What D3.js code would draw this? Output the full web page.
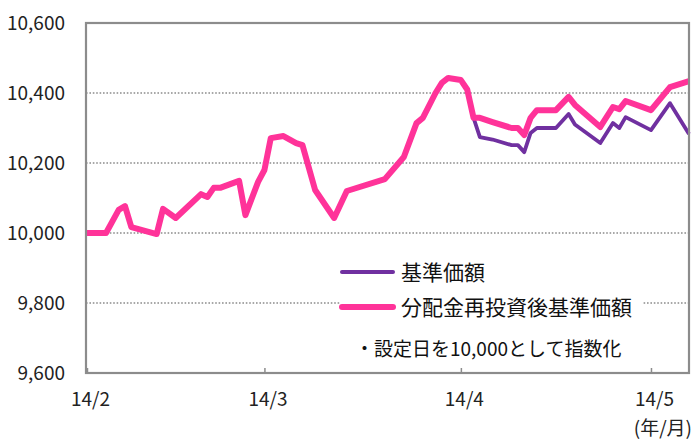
<!DOCTYPE html>
<html lang="ja">
<head>
<meta charset="utf-8" />
<title>基準価額の推移</title>
<script src="https://d3js.org/d3.v7.min.js"></script>
<style>
  body { margin: 0; background: #fff; }
  svg { display: block; font-family: "Noto Sans CJK JP", "Noto Sans", sans-serif; }
</style>
</head>
<body>
<svg width="696" height="441"></svg>
<script>
// dates (set-up date = 10,000)
var dates = [
  "2014-02-01", "2014-02-04", "2014-02-06", "2014-02-07", "2014-02-08", "2014-02-12",
  "2014-02-13", "2014-02-15", "2014-02-19", "2014-02-20", "2014-02-21", "2014-02-22",
  "2014-02-25", "2014-02-26", "2014-02-28", "2014-03-01", "2014-03-02", "2014-03-04",
  "2014-03-06", "2014-03-07", "2014-03-09", "2014-03-12", "2014-03-14", "2014-03-20",
  "2014-03-23", "2014-03-25", "2014-03-26", "2014-03-28", "2014-03-29", "2014-03-30",
  "2014-04-01", "2014-04-02", "2014-04-03", "2014-04-04", "2014-04-06", "2014-04-09",
  "2014-04-10", "2014-04-11", "2014-04-12", "2014-04-13", "2014-04-16", "2014-04-18",
  "2014-04-19", "2014-04-23", "2014-04-25", "2014-04-26", "2014-04-27", "2014-05-01",
  "2014-05-04", "2014-05-07"
];
// 基準価額
var nav = [
  10000, 10000, 10066, 10077, 10017, 9997,
  10069, 10043, 10111, 10103, 10129, 10129,
  10149, 10051, 10146, 10180, 10271, 10277,
  10257, 10251, 10123, 10043, 10120, 10154,
  10217, 10314, 10329, 10400, 10429, 10443,
  10437, 10410, 10329, 10274, 10267, 10251,
  10251, 10231, 10286, 10300, 10300, 10340,
  10310, 10257, 10314, 10300, 10331, 10294,
  10371, 10283
];
// 分配金再投資後基準価額
var navReinvested = [
  10000, 10000, 10066, 10077, 10017, 9997,
  10069, 10043, 10111, 10103, 10129, 10129,
  10149, 10051, 10146, 10180, 10271, 10277,
  10257, 10251, 10123, 10043, 10120, 10154,
  10217, 10314, 10329, 10400, 10429, 10443,
  10437, 10410, 10329, 10329, 10317, 10300,
  10300, 10280, 10329, 10351, 10351, 10389,
  10366, 10303, 10360, 10354, 10377, 10351,
  10417, 10434
];
var monthTicks = ["2014-02-01", "2014-03-01", "2014-04-01", "2014-05-01"];
var monthLabels = ["14/2", "14/3", "14/4", "14/5"];
var yTicks = [9600, 9800, 10000, 10200, 10400, 10600];
var seriesNames = ["基準価額", "分配金再投資後基準価額"];
var note = "・設定日を10,000として指数化";

var parse = d3.timeParse("%Y-%m-%d");
var purple = "#7030a0", pink = "#ff3399";

var svg = d3.select("svg");
var plotL = 86, plotR = 689, plotT = 23, plotB = 373;

var x = d3.scaleTime()
  .domain([parse("2014-02-01"), parse("2014-05-07")])
  .range([87, plotR]);
var y = d3.scaleLinear().domain([9600, 10600]).range([plotB, plotT]);

// dotted grid
svg.append("g")
  .selectAll("line")
  .data(yTicks.slice(1, -1))
  .join("line")
  .attr("x1", plotL).attr("x2", plotR)
  .attr("y1", d => y(d)).attr("y2", d => y(d))
  .attr("stroke", "#8c8c8c")
  .attr("stroke-width", 1.5)
  .attr("stroke-dasharray", "1.6,1.8");

// y labels
var yAxis = svg.append("g")
  .attr("transform", "translate(" + (plotL - 21) + ",0)")
  .call(d3.axisLeft(y).tickValues(yTicks).tickSize(0).tickPadding(0).tickFormat(d3.format(",")));
yAxis.select(".domain").remove();
yAxis.selectAll("text")
  .attr("font-family", "'Noto Sans CJK JP', sans-serif")
  .attr("font-size", 19)
  .attr("fill", "#222");

// x axis (inward ticks)
var xAxis = svg.append("g")
  .attr("transform", "translate(0," + plotB + ")")
  .call(d3.axisBottom(x)
    .tickValues(monthTicks.map(parse))
    .tickSize(-5)
    .tickPadding(20)
    .tickFormat((d, i) => monthLabels[i]));
xAxis.select(".domain").remove();
xAxis.selectAll("line").attr("stroke", "#8c8c8c").attr("stroke-width", 1.5);
xAxis.selectAll("text")
  .attr("font-family", "'Noto Sans CJK JP', sans-serif")
  .attr("font-size", 19)
  .attr("fill", "#222")
  .attr("dx", 3);

svg.append("text")
  .attr("x", 692).attr("y", 435)
  .attr("text-anchor", "end")
  .attr("font-size", 19)
  .attr("fill", "#222")
  .text("(年/月)");

// legend box
var legend = svg.append("g");
legend.append("rect")
  .attr("x", 340).attr("y", 254).attr("width", 302).attr("height", 112)
  .attr("fill", "#fff");

// lines
var line = d3.line()
  .x((d, i) => x(parse(dates[i])))
  .y(d => y(d));

svg.append("path")
  .datum(nav)
  .attr("d", line)
  .attr("fill", "none")
  .attr("stroke", purple)
  .attr("stroke-width", 3.8)
  .attr("stroke-linejoin", "round");

svg.append("path")
  .datum(navReinvested)
  .attr("d", line)
  .attr("fill", "none")
  .attr("stroke", pink)
  .attr("stroke-width", 6)
  .attr("stroke-linejoin", "round");

// frame
svg.append("rect")
  .attr("x", plotL).attr("y", plotT)
  .attr("width", plotR - plotL).attr("height", plotB - plotT)
  .attr("fill", "none")
  .attr("stroke", "#8c8c8c")
  .attr("stroke-width", 2.2);

// legend entries
var legendY = [272, 307];
var legendColors = [purple, pink];
var legendWidths = [4, 6];
seriesNames.forEach(function (name, i) {
  legend.append("line")
    .attr("x1", 342).attr("x2", 393)
    .attr("y1", legendY[i]).attr("y2", legendY[i])
    .attr("stroke", legendColors[i])
    .attr("stroke-width", legendWidths[i])
    .attr("stroke-linecap", "round");
  legend.append("text")
    .attr("x", 401).attr("y", legendY[i])
    .attr("dy", "0.36em")
    .attr("font-size", 21)
    .attr("fill", "#111")
    .text(name);
});
legend.append("text")
  .attr("x", 355).attr("y", 349)
  .attr("dy", "0.36em")
  .attr("font-size", 19)
  .attr("fill", "#111")
  .text(note);
</script>
</body>
</html>
